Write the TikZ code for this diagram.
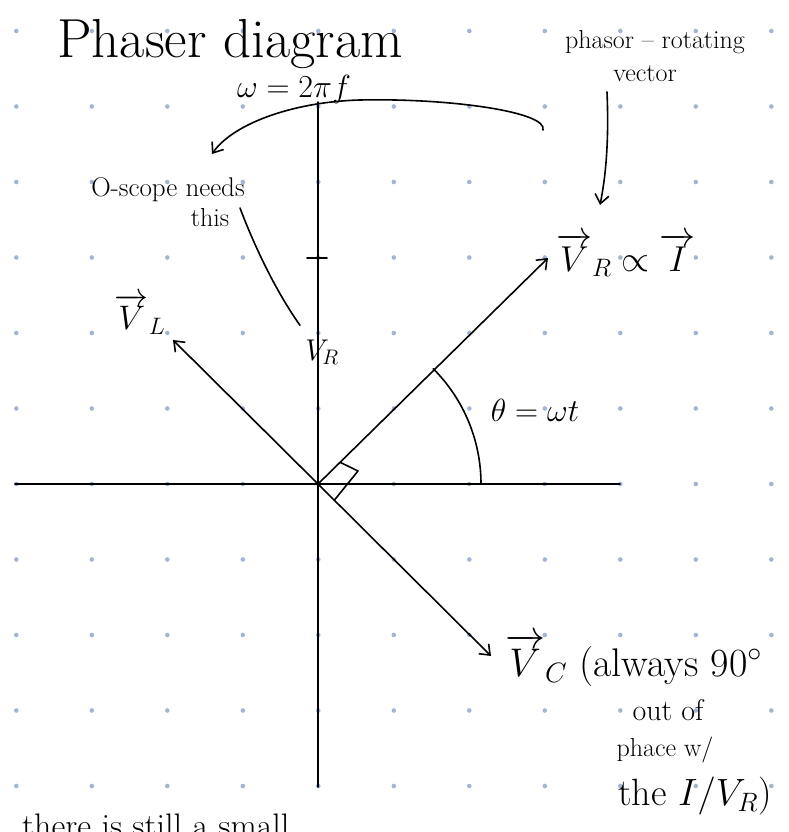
\RequirePackage{fix-cm}
\documentclass[tikz,border=0pt]{standalone}
\usepackage{amsmath, amssymb}
\usepackage{tikz}
\usetikzlibrary{arrows.meta, calc}
\definecolor{dotblue}{RGB}{163,181,212}
\tikzset{
  hand/.style={line width=1.6pt, line cap=round, line join=round},
  handarrow/.style={hand, -{Straight Barb[length=9pt, width=14pt, line width=1.6pt]}},
  note/.style={inner sep=0pt, font=\fontsize{26}{30}\selectfont}
}

\begin{document}
\begin{tikzpicture}[x=1pt, y=1pt]
  \useasboundingbox (0,0) rectangle (789,-832);
  \clip (0,0) rectangle (789,-832);

  % ── dot grid ─────────────────────────────────────────────────────
  \foreach \i in {0,...,10}
    \foreach \j in {0,...,10}
      { \fill[dotblue] (16.3+75.5*\i, -31-75.5*\j) circle[radius=2.3pt]; }

  % ── axes ─────────────────────────────────────────────────────────
  \coordinate (O)     at (318,-484);
  \coordinate (ytop)  at (318,-102);
  \coordinate (ybot)  at (318,-787);
  \coordinate (xleft) at (15,-484);
  \coordinate (xright) at (620,-484);

  \draw[hand] (ytop) -- (ybot);
  \draw[hand] (xleft) -- (xright);
  \draw[hand] (307,-258) -- (327,-258);

  % ── phasors ──────────────────────────────────────────────────────
  \coordinate (vrtip) at (548,-258);
  \coordinate (vltip) at (173,-340);
  \coordinate (vctip) at (491,-656);

  \draw[handarrow] (O) -- (vrtip);
  \draw[handarrow] (O) -- (vltip);
  \draw[handarrow] (O) -- (vctip);

  % right angle between V_R and V_C
  \draw[hand] ($(O)!31pt!(vrtip)$) -- (358,-471) -- ($(O)!23pt!(vctip)$);

  % angle theta
  \draw[hand] (O) ++(0:163pt) arc[start angle=0, end angle=45, radius=163pt];

  % ── labels ───────────────────────────────────────────────────────
  \node[inner sep=0pt, font=\fontsize{55}{60}\selectfont] (title) at (230,-44) {Phaser diagram};
  \node[note] (rotnote) at (655,-42) {phasor -- rotating};
  \node[note] (vecnote) at (645,-74) {vector};
  \node[inner sep=0pt, font=\fontsize{32}{36}\selectfont] (omega) at (294,-90) {$\omega=2\pi f$};
  \node[note, font=\fontsize{27}{31}\selectfont] (scope) at (168,-190) {O-scope needs};
  \node[note] (this) at (210,-218) {this};

  \node[inner sep=0pt, font=\fontsize{34}{38}\selectfont] (vllab) at (140,-314) {$\overrightarrow{V}_{L}$};
  \node[inner sep=0pt, font=\fontsize{30}{34}\selectfont] (vrnote) at (322,-352) {$V_R$};
  \node[anchor=west, inner sep=0pt, font=\fontsize{36}{40}\selectfont] (vrlab) at (556,-255) {$\overrightarrow{V}_{R}\propto\overrightarrow{I}$};
  \node[inner sep=0pt, font=\fontsize{32}{36}\selectfont] (theta) at (535,-410) {$\theta=\omega t$};

  \node[anchor=west, inner sep=0pt, font=\fontsize{40}{44}\selectfont] (vclab) at (505,-660) {$\overrightarrow{V}_{C}$ (always 90$^\circ$};
  \node[note, font=\fontsize{30}{34}\selectfont] (outof) at (668,-710) {out of};
  \node[note] (phace) at (665,-750) {phace w/};
  \node[inner sep=0pt, font=\fontsize{38}{42}\selectfont] (the) at (695,-796) {the $I/V_R$)};

  \node[anchor=north west, inner sep=0pt, font=\fontsize{34}{38}\selectfont] (bottom) at (22,-814) {there is still a small};

  % ── notes and pointers ───────────────────────────────────────────
  \coordinate (wstart) at (543,-130);
  \coordinate (wend)   at (212,-154);
  \draw[handarrow] (wstart) .. controls (548,-112) and (450,-98) .. (360,-100)
                            .. controls (290,-102) and (232,-125) .. (wend);

  \coordinate (vecfoot) at (607,-92);
  \coordinate (vechead) at (600,-205);
  \draw[handarrow] (vecfoot) .. controls (609,-140) and (606,-175) .. (vechead);

  \coordinate (thisfoot) at (240,-208);
  \draw[hand] (thisfoot) .. controls (254,-245) and (275,-290) .. ([xshift=-22pt,yshift=14pt]vrnote.north);
\end{tikzpicture}
\end{document}
